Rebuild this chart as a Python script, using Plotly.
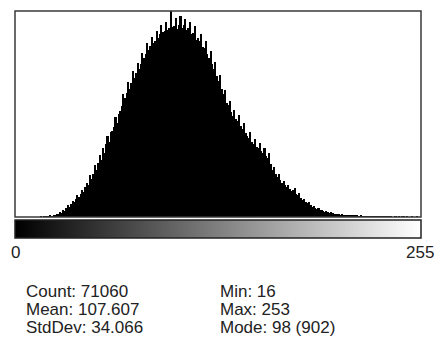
import plotly.graph_objects as go

bins = list(range(256))
counts = [0]*16 + [
    1, 0, 2, 1, 3, 2, 5, 4, 8, 7, 14, 12, 20, 18,            # 16-29
    30, 27, 40, 52, 45, 56, 72, 64, 78, 95,                   # 30-39
    86, 102, 120, 110, 132, 150, 138, 184, 168, 190,          # 40-49
    228, 205, 236, 270, 250, 302, 280, 318, 356, 330,         # 50-59
    372, 377, 395, 440, 410, 452, 464, 488, 540, 521,         # 60-69
    545, 590, 562, 585, 640, 609, 630, 675, 650, 668,         # 70-79
    720, 696, 712, 760, 730, 748, 790, 762, 771, 815,         # 80-89
    785, 800, 840, 808, 814, 852, 820, 828, 902, 832,         # 90-99
    836, 870, 822, 840, 880, 826, 842, 868, 820, 828,         # 100-109
    856, 800, 806, 836, 775, 782, 771, 800, 745, 740,         # 110-119
    770, 712, 696, 726, 668, 650, 680, 618, 596, 620,         # 120-129
    560, 540, 556, 500, 490, 508, 460, 442, 470, 428,         # 130-139
    420, 445, 400, 385, 410, 370, 355, 346, 372, 330,         # 140-149
    318, 342, 308, 302, 325, 290, 280, 300, 265, 258,         # 150-159
    280, 232, 206, 220, 190, 175, 190, 160, 149, 158,         # 160-169
    138, 130, 140, 122, 115, 118, 126, 100, 95, 104,          # 170-179
    84, 74, 80, 66, 60, 64, 52, 44, 48, 40,                   # 180-189
    36, 40, 32, 31, 27, 24, 28, 20, 18, 20,                   # 190-199
    18, 15, 13, 14, 11, 10, 12, 9, 8, 9,                      # 200-209
    7, 6, 7, 5, 5, 6, 4, 4, 5, 3,                             # 210-219
    3, 4, 2, 3, 2, 2, 3, 2, 1, 3,                             # 220-229
    1, 2, 1, 1, 2, 1, 1, 1, 0, 1,                             # 230-239
    1, 0, 1, 0, 1, 1, 0, 1, 0, 0,                             # 240-249
    1, 0, 0, 1, 0, 0,                                         # 250-255
]
axis_tick_vals = [0, 255]
axis_tick_text = ["0", "255"]
stats_left = ["Count: 71060", "Mean: 107.607", "StdDev: 34.066"]
stats_right = ["Min: 16", "Max: 253", "Mode: 98 (902)"]

W, H = 445, 347
ml, mr, mt, mb = 14, 19, 11, 109
pw, ph = W - ml - mr, H - mt - mb

def px(x):
    return (x - ml) / pw

def py(y):
    return (H - mb - y) / ph

fig = go.Figure()
fig.add_trace(go.Bar(x=bins, y=counts, width=1.0,
                     marker=dict(color="black", line=dict(width=0)),
                     xaxis="x", yaxis="y", showlegend=False, hoverinfo="skip"))
fig.add_trace(go.Heatmap(x=bins, y=[0], z=[bins],
                         colorscale=[[0, "black"], [1, "white"]],
                         showscale=False, xaxis="x2", yaxis="y2", hoverinfo="skip"))

font_family = "Liberation Sans, Arial, sans-serif"
fig.update_layout(
    width=W, height=H,
    margin=dict(l=ml, r=mr, t=mt, b=mb),
    paper_bgcolor="white", plot_bgcolor="white",
    bargap=0,
    xaxis=dict(range=[-0.5, 255.5], showticklabels=False, showgrid=False,
               zeroline=False, showline=False, ticks="", anchor="y"),
    yaxis=dict(range=[0, 902], domain=[py(217), 1], showticklabels=False,
               showgrid=False, zeroline=False, showline=False, ticks=""),
    xaxis2=dict(range=[-0.5, 255.5], anchor="y2", showgrid=False, zeroline=False,
                showline=False, tickmode="array", tickvals=axis_tick_vals,
                ticktext=axis_tick_text, ticks="", ticklabelstandoff=2,
                tickfont=dict(family=font_family, size=17, color="#222")),
    yaxis2=dict(domain=[0, py(220)], showticklabels=False, showgrid=False,
                zeroline=False, showline=False, ticks="", range=[-0.5, 0.5]),
    shapes=[
        dict(type="rect", xref="paper", yref="paper", x0=0, x1=1,
             y0=py(217), y1=1, line=dict(color="#3a3a3a", width=1.5)),
        dict(type="rect", xref="paper", yref="paper", x0=0, x1=1,
             y0=0, y1=py(220), line=dict(color="#222", width=1.5)),
    ],
)

for i, t in enumerate(stats_left):
    fig.add_annotation(text=t, xref="paper", yref="paper", x=px(23), y=py(291 + 18 * i),
                       xanchor="left", yanchor="middle", showarrow=False,
                       font=dict(family=font_family, size=17, color="#222"))
for i, t in enumerate(stats_right):
    fig.add_annotation(text=t, xref="paper", yref="paper", x=px(220), y=py(291 + 18 * i),
                       xanchor="left", yanchor="middle", showarrow=False,
                       font=dict(family=font_family, size=17, color="#222"))

fig.write_html("out.html")
